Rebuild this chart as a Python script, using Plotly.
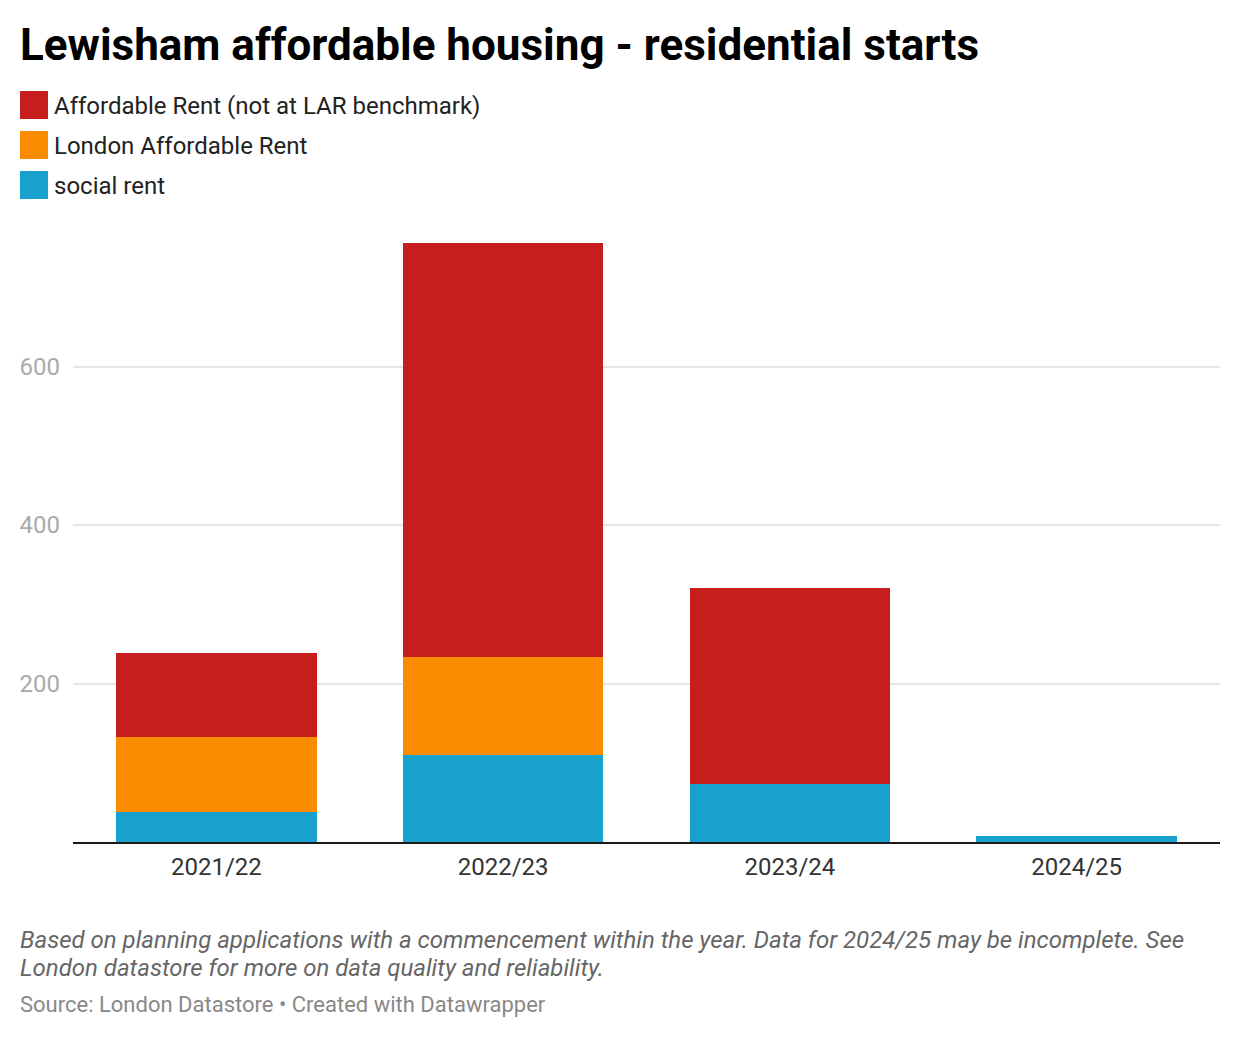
import plotly.graph_objects as go

# Lewisham affordable housing starts
years = ["2021/22", "2022/23", "2023/24", "2024/25"]
affordable_rent = [106, 522, 247, 0]
london_affordable_rent = [95, 124, 0, 0]
social_rent = [38, 110, 73, 8]

series_names = ["Affordable Rent (not at LAR benchmark)", "London Affordable Rent", "social rent"]
colors = ["#c71e1d", "#fa8c00", "#18a1cd"]

FONT = "Roboto"
W, H = 1240, 1040
L, R, T, B = 65, 28, 235, 206
PW, PH = W - L - R, H - T - B


# helpers to place decorations by figure pixel position
def px(x):
    return (x - L) / PW


def py(y):
    return (H - B - y) / PH


fig = go.Figure()
# stacked bottom-up: social rent, LAR, AR
for name, vals, col in zip(series_names[::-1],
                           [social_rent, london_affordable_rent, affordable_rent],
                           colors[::-1]):
    fig.add_trace(go.Bar(x=years, y=vals, name=name, marker_color=col,
                         marker_line_width=0, hoverinfo="x+y+name"))

fig.update_layout(
    width=W, height=H,
    barmode="stack", bargap=0.3,
    showlegend=False,
    plot_bgcolor="white", paper_bgcolor="white",
    font=dict(family=FONT, size=24, color="#333333"),
    margin=dict(l=L, r=R, t=T, b=B),
)
fig.update_yaxes(range=[0, 756], tickvals=[200, 400, 600], showgrid=True,
                 gridcolor="#e6e6e6", gridwidth=2, zeroline=False, showline=False,
                 tickfont=dict(size=24, color="#aaaaaa"), ticklabelstandoff=12)
fig.update_xaxes(showline=True, linecolor="#1a1a1a", linewidth=2,
                 tickfont=dict(size=24, color="#333333"), ticks="", ticklabelstandoff=2)

# title
fig.add_annotation(text="<b>Lewisham affordable housing - residential starts</b>",
                   xref="paper", yref="paper", x=px(10), y=py(37),
                   xanchor="left", yanchor="middle", showarrow=False,
                   font=dict(size=44, color="#000000"))

# legend swatches and labels
for i, (name, col) in enumerate(zip(series_names, colors)):
    yc = 97 + 40 * i
    fig.add_shape(type="rect", xref="paper", yref="paper",
                  x0=px(12), x1=px(40), y0=py(yc + 14), y1=py(yc - 14),
                  fillcolor=col, line_width=0)
    fig.add_annotation(text=name, xref="paper", yref="paper",
                       x=px(44), y=py(yc + 1),
                       xanchor="left", yanchor="middle", showarrow=False,
                       font=dict(size=24, color="#222222"))

# notes
notes = ["Based on planning applications with a commencement within the year. "
         "Data for 2024/25 may be incomplete. See",
         "London datastore for more on data quality and reliability."]
for i, line in enumerate(notes):
    fig.add_annotation(text="<i>" + line + "</i>", xref="paper", yref="paper",
                       x=px(10), y=py(932 + 28 * i),
                       xanchor="left", yanchor="middle", showarrow=False,
                       font=dict(size=24, color="#666666"))
fig.add_annotation(text="Source: London Datastore • Created with Datawrapper",
                   xref="paper", yref="paper", x=px(10), y=py(996),
                   xanchor="left", yanchor="middle", showarrow=False,
                   font=dict(size=22, color="#888888"))

fig.write_html("out.html")
